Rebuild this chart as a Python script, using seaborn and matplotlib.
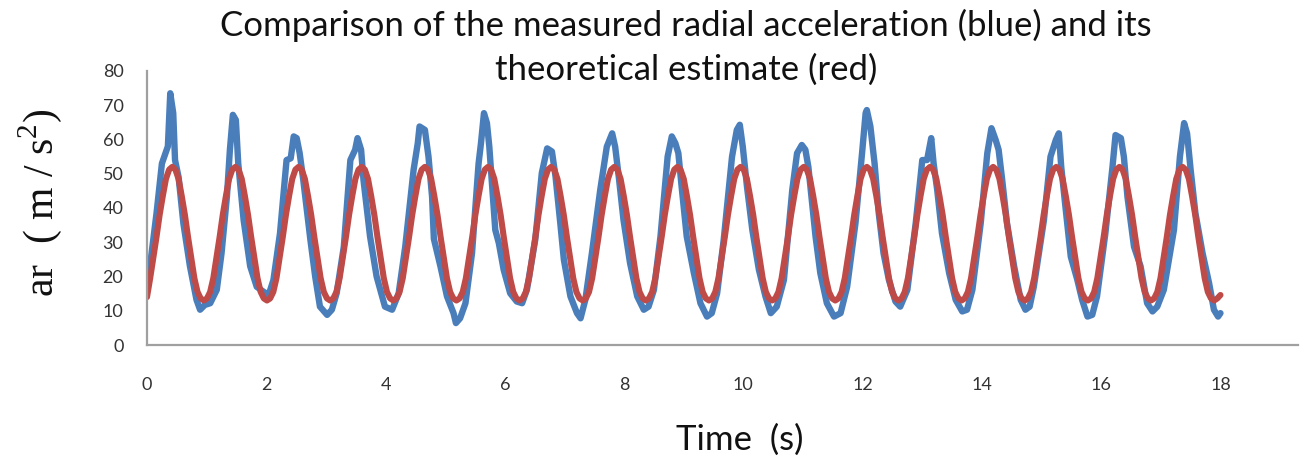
import numpy as np
import pandas as pd
import matplotlib
matplotlib.use("Agg")
import matplotlib.pyplot as plt
import seaborn as sns

# ---- data ----
# theoretical estimate (red), read on a uniform grid from 0 to 18 s (341 samples)
red_accel = [
    14.0, 19.5, 25.5, 31.5, 38.0, 43.5, 48.5, 51.2, 52.0, 51.2, 48.5, 43.5, 38.0, 31.5, 25.5, 19.5, 15.5, 13.6, 13.0, 13.6,
    15.5, 19.5, 25.5, 31.5, 38.0, 43.5, 48.5, 51.2, 52.0, 51.2, 48.5, 43.5, 38.0, 31.5, 25.5, 19.5, 15.5, 13.6, 13.0, 13.6,
    15.5, 19.5, 25.5, 31.5, 38.0, 43.5, 48.5, 51.2, 52.0, 51.2, 48.5, 43.5, 38.0, 31.5, 25.5, 19.5, 15.5, 13.6, 13.0, 13.6,
    15.5, 19.5, 25.5, 31.5, 38.0, 43.5, 48.5, 51.2, 52.0, 51.2, 48.5, 43.5, 38.0, 31.5, 25.5, 19.5, 15.5, 13.6, 13.0, 13.6,
    15.5, 19.5, 25.5, 31.5, 38.0, 43.5, 48.5, 51.2, 52.0, 51.2, 48.5, 43.5, 38.0, 31.5, 25.5, 19.5, 15.5, 13.6, 13.0, 13.6,
    15.5, 19.5, 25.5, 31.5, 38.0, 43.5, 48.5, 51.2, 52.0, 51.2, 48.5, 43.5, 38.0, 31.5, 25.5, 19.5, 15.5, 13.6, 13.0, 13.6,
    15.5, 19.5, 25.5, 31.5, 38.0, 43.5, 48.5, 51.2, 52.0, 51.2, 48.5, 43.5, 38.0, 31.5, 25.5, 19.5, 15.5, 13.6, 13.0, 13.6,
    15.5, 19.5, 25.5, 31.5, 38.0, 43.5, 48.5, 51.2, 52.0, 51.2, 48.5, 43.5, 38.0, 31.5, 25.5, 19.5, 15.5, 13.6, 13.0, 13.6,
    15.5, 19.5, 25.5, 31.5, 38.0, 43.5, 48.5, 51.2, 52.0, 51.2, 48.5, 43.5, 38.0, 31.5, 25.5, 19.5, 15.5, 13.6, 13.0, 13.6,
    15.5, 19.5, 25.5, 31.5, 38.0, 43.5, 48.5, 51.2, 52.0, 51.2, 48.5, 43.5, 38.0, 31.5, 25.5, 19.5, 15.5, 13.6, 13.0, 13.6,
    15.5, 19.5, 25.5, 31.5, 38.0, 43.5, 48.5, 51.2, 52.0, 51.2, 48.5, 43.5, 38.0, 31.5, 25.5, 19.5, 15.5, 13.6, 13.0, 13.6,
    15.5, 19.5, 25.5, 31.5, 38.0, 43.5, 48.5, 51.2, 52.0, 51.2, 48.5, 43.5, 38.0, 31.5, 25.5, 19.5, 15.5, 13.6, 13.0, 13.6,
    15.5, 19.5, 25.5, 31.5, 38.0, 43.5, 48.5, 51.2, 52.0, 51.2, 48.5, 43.5, 38.0, 31.5, 25.5, 19.5, 15.5, 13.6, 13.0, 13.6,
    15.5, 19.5, 25.5, 31.5, 38.0, 43.5, 48.5, 51.2, 52.0, 51.2, 48.5, 43.5, 38.0, 31.5, 25.5, 19.5, 15.5, 13.6, 13.0, 13.6,
    15.5, 19.5, 25.5, 31.5, 38.0, 43.5, 48.5, 51.2, 52.0, 51.2, 48.5, 43.5, 38.0, 31.5, 25.5, 19.5, 15.5, 13.6, 13.0, 13.6,
    15.5, 19.5, 25.5, 31.5, 38.0, 43.5, 48.5, 51.2, 52.0, 51.2, 48.5, 43.5, 38.0, 31.5, 25.5, 19.5, 15.5, 13.6, 13.0, 13.6,
    15.5, 19.5, 25.5, 31.5, 38.0, 43.5, 48.5, 51.2, 52.0, 51.2, 48.5, 43.5, 38.0, 31.5, 25.5, 19.5, 15.5, 13.6, 13.0, 13.6,
    14.6,
]
red_time = np.linspace(0.0, 18.0, len(red_accel))

# measured radial acceleration (blue)
blue_time = [
    0.00, 0.05, 0.16, 0.25, 0.30, 0.35, 0.39, 0.42, 0.44, 0.47, 0.53, 0.61, 0.72, 0.83, 0.89, 0.97, 1.06, 1.17,
    1.25, 1.34, 1.39, 1.44, 1.49, 1.53, 1.62, 1.73, 1.84, 1.95, 2.04, 2.12,
    2.23, 2.34, 2.41, 2.46, 2.51, 2.56, 2.62, 2.74, 2.82, 2.90, 3.02, 3.10, 3.18,
    3.30, 3.41, 3.49, 3.53, 3.59, 3.63, 3.74, 3.85, 3.99, 4.11, 4.22,
    4.33, 4.47, 4.54, 4.57, 4.66, 4.72, 4.78, 4.81, 4.92, 5.03, 5.14, 5.18, 5.25, 5.34,
    5.45, 5.56, 5.60, 5.65, 5.70, 5.74, 5.78, 5.84, 5.90, 5.98, 6.09, 6.20, 6.29, 6.37,
    6.51, 6.62, 6.71, 6.79, 6.85, 6.93, 6.99, 7.10, 7.21, 7.27, 7.35,
    7.46, 7.60, 7.71, 7.80, 7.85, 7.91, 7.99, 8.10, 8.22, 8.33, 8.41, 8.50,
    8.61, 8.73, 8.80, 8.86, 8.91, 8.97, 9.05, 9.17, 9.28, 9.39, 9.47, 9.56,
    9.67, 9.81, 9.89, 9.94, 9.99, 10.06, 10.15, 10.26, 10.37, 10.46, 10.56, 10.68,
    10.82, 10.90, 10.98, 11.04, 11.09, 11.13, 11.21, 11.29, 11.40, 11.52, 11.63, 11.74,
    11.88, 11.99, 12.05, 12.07, 12.13, 12.20, 12.27, 12.35, 12.44, 12.55, 12.63, 12.75,
    12.89, 13.00, 13.08, 13.15, 13.19, 13.25, 13.33, 13.45, 13.56, 13.67, 13.75, 13.84,
    13.98, 14.09, 14.16, 14.23, 14.28, 14.34, 14.42, 14.54, 14.65, 14.73, 14.80, 14.87,
    15.04, 15.15, 15.24, 15.29, 15.33, 15.40, 15.49, 15.60, 15.68, 15.77, 15.85, 15.93,
    16.07, 16.19, 16.24, 16.33, 16.38, 16.44, 16.55, 16.66, 16.77, 16.86, 16.94, 17.05,
    17.22, 17.32, 17.39, 17.44, 17.50, 17.58, 17.70, 17.81, 17.89, 17.96, 18.00,
]
blue_accel = [
    18.0, 23.0, 38.5, 53.0, 55.5, 58.0, 73.5, 70.0, 67.7, 54.0, 49.0, 35.5, 23.0, 13.2, 10.3, 11.7, 12.2, 16.1,
    26.8, 43.3, 57.0, 67.2, 65.7, 53.0, 36.5, 23.0, 17.0, 15.6, 14.6, 19.0,
    32.6, 54.0, 54.5, 60.9, 60.4, 56.0, 48.2, 30.7, 20.0, 11.2, 8.8, 10.3, 15.1,
    28.7, 54.0, 57.0, 60.4, 57.0, 48.2, 31.7, 20.0, 11.2, 10.3, 15.1,
    28.7, 51.1, 58.9, 63.8, 62.8, 55.0, 43.3, 31.0, 23.0, 14.2, 9.3, 6.4, 7.8, 12.2,
    26.8, 53.0, 58.9, 67.7, 64.8, 57.9, 48.2, 33.6, 29.7, 22.0, 15.1, 12.7, 12.2, 16.1,
    30.7, 50.2, 57.4, 56.5, 49.2, 35.6, 24.9, 14.2, 9.3, 7.8, 13.2,
    26.8, 45.3, 57.9, 61.8, 57.9, 49.2, 36.5, 23.9, 14.2, 10.3, 11.2, 16.1,
    31.7, 55.0, 60.9, 58.9, 56.0, 45.3, 31.7, 21.0, 12.2, 8.3, 9.3, 15.1,
    30.7, 55.0, 62.8, 64.3, 57.9, 46.3, 33.6, 22.0, 14.2, 9.3, 11.2, 19.0,
    45.3, 56.0, 58.4, 57.0, 52.0, 45.3, 31.7, 21.0, 12.2, 8.3, 9.3, 17.0,
    35.6, 56.0, 67.7, 68.6, 63.8, 53.0, 38.5, 26.8, 19.0, 12.7, 11.2, 16.1,
    35.6, 54.0, 54.0, 60.4, 53.0, 45.3, 32.6, 21.0, 13.2, 9.8, 10.3, 16.1,
    35.6, 56.0, 63.3, 59.9, 57.0, 48.2, 35.6, 23.0, 13.2, 10.3, 11.2, 17.0,
    36.5, 55.0, 59.9, 61.8, 52.0, 40.4, 25.8, 19.0, 13.2, 8.3, 8.8, 14.2,
    32.6, 52.1, 61.3, 60.4, 55.0, 43.3, 28.7, 23.0, 12.2, 9.8, 11.2, 16.1,
    33.6, 55.0, 64.8, 61.8, 51.1, 38.5, 26.8, 18.0, 10.3, 8.3, 9.3,
]

x_ticks = [0, 2, 4, 6, 8, 10, 12, 14, 16, 18]
y_ticks = [0, 10, 20, 30, 40, 50, 60, 70, 80]
title_line1 = "Comparison of the measured radial acceleration (blue) and its"
title_line2 = "theoretical estimate (red)"
x_label = "Time  (s)"
y_label = r"ar  ( m / s$^{2}$)"

blue_df = pd.DataFrame({"t": blue_time, "a": blue_accel})
red_df = pd.DataFrame({"t": red_time, "a": red_accel})

# ---- style ----
sns.set_style("white")
plt.rcParams["font.family"] = ["Lato", "DejaVu Sans"]
plt.rcParams["mathtext.fontset"] = "custom"
plt.rcParams["mathtext.rm"] = "Liberation Serif"

W, H = 1306, 468
fig = plt.figure(figsize=(W / 100, H / 100), dpi=100)
ax = fig.add_axes([147 / W, 123 / H, (1298 - 147) / W, (345 - 71) / H])

BLUE = "#4A7EBB"
RED = "#BE4B48"
sns.lineplot(data=blue_df, x="t", y="a", ax=ax, color=BLUE, linewidth=4.6,
             sort=False, estimator=None, solid_joinstyle="round",
             solid_capstyle="round")
sns.lineplot(data=red_df, x="t", y="a", ax=ax, color=RED, linewidth=4.4,
             sort=False, estimator=None, solid_joinstyle="round",
             solid_capstyle="round")

ax.set_xlim(0, 19.3)
ax.set_ylim(0, 80)
ax.set_xticks(x_ticks)
ax.set_yticks(y_ticks)
ax.set_xlabel("")
ax.set_ylabel("")

AXC = "#A0A0A0"
for side in ("top", "right"):
    ax.spines[side].set_visible(False)
for side in ("left", "bottom"):
    ax.spines[side].set_color(AXC)
    ax.spines[side].set_linewidth(1.6)

ax.tick_params(axis="x", direction="out", length=6, width=1.6, color=AXC,
               pad=17, labelsize=13, labelcolor="#333333")
ax.tick_params(axis="y", direction="out", length=6, width=1.6, color=AXC,
               pad=11, labelsize=13, labelcolor="#333333")

fig.text(686 / W, 1 - 25 / H, title_line1, ha="center", va="center",
         fontsize=25, color="#111111")
fig.text(686 / W, 1 - 70 / H, title_line2, ha="center", va="center",
         fontsize=25, color="#111111")
fig.text(740 / W, 1 - 440 / H, x_label, ha="center", va="center",
         fontsize=25, color="#111111")
fig.text(40 / W, 1 - 203 / H, y_label, rotation=90,
         ha="center", va="center", fontsize=30, color="#111111",
         family=["Liberation Serif", "DejaVu Serif"])

fig.savefig("out.png", dpi=100)
